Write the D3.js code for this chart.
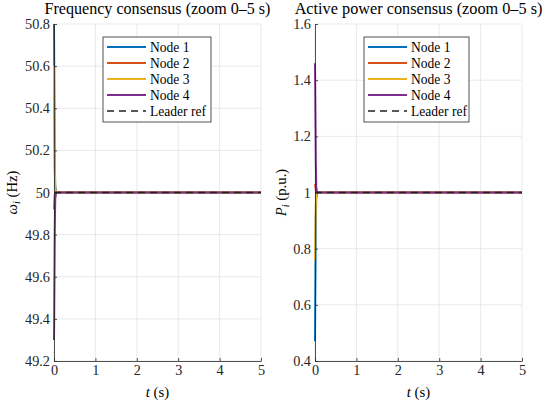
<!DOCTYPE html>
<html>
<head>
<meta charset="utf-8">
<script src="https://cdn.jsdelivr.net/npm/d3@7"></script>
<style>
  body { margin: 0; background: #fff; }
</style>
</head>
<body>
<div id="chart"></div>
<script>
const FONT = "'Liberation Serif', 'DejaVu Serif', serif";

// time samples (s)
const timeSteps = [0, 0.005, 0.01, 0.015, 0.02, 0.03, 0.05, 0.1, 0.5, 1, 2, 3, 4, 5];
const nodeNames = ["Node 1", "Node 2", "Node 3", "Node 4"];
const nodeColors = ["#0072BD", "#D95319", "#EDB120", "#7E2F8E"];

// frequency (Hz)
const freqNode1 = [50.8, 50.62, 50.44, 50.27, 50.13, 50.03, 50.0, 50, 50, 50, 50, 50, 50, 50];
const freqNode2 = [49.92, 49.94, 49.96, 49.98, 49.99, 50.0, 50, 50, 50, 50, 50, 50, 50, 50];
const freqNode3 = [50.6, 50.46, 50.33, 50.2, 50.1, 50.02, 50, 50, 50, 50, 50, 50, 50, 50];
const freqNode4 = [49.3, 49.42, 49.56, 49.7, 49.84, 49.97, 50, 50, 50, 50, 50, 50, 50, 50];
const freqLeader = 50;
const freqTicks = [49.2, 49.4, 49.6, 49.8, 50, 50.2, 50.4, 50.6, 50.8];

// active power (p.u.)
const powNode1 = [0.47, 0.58, 0.69, 0.8, 0.9, 0.98, 1, 1, 1, 1, 1, 1, 1, 1];
const powNode2 = [1.03, 1.025, 1.02, 1.015, 1.01, 1.0, 1, 1, 1, 1, 1, 1, 1, 1];
const powNode3 = [0.76, 0.82, 0.87, 0.92, 0.96, 0.99, 1, 1, 1, 1, 1, 1, 1, 1];
const powNode4 = [1.46, 1.38, 1.29, 1.2, 1.11, 1.02, 1, 1, 1, 1, 1, 1, 1, 1];
const powLeader = 1;
const powTicks = [0.4, 0.6, 0.8, 1, 1.2, 1.4, 1.6];

const timeTicks = [0, 1, 2, 3, 4, 5];

const svg = d3.select("#chart")
    .append("svg")
    .attr("width", 550)
    .attr("height", 405)
    .style("font-family", FONT);

// pick a font size so that a sample string takes the width seen in the reference
function fitSize(sample, targetW) {
    const t = svg.append("text").attr("font-size", 20).text(sample);
    const w = t.node().getComputedTextLength();
    t.remove();
    return 20 * targetW / w;
}
const tickSize = fitSize("50.8", 25);
const legendSize = fitSize("Leader ref", 56);
const labelSize = fitSize("(Hz)", 27);

function drawPanel(opts) {
    const width = 207, height = 337;
    const g = svg.append("g")
        .attr("transform", `translate(${opts.left},24)`);

    const x = d3.scaleLinear().domain([0, 5]).range([0, width]);
    const y = d3.scaleLinear().domain(opts.domain).range([height, 0]);

    // grid
    g.append("g")
        .selectAll("line")
        .data(timeTicks)
        .enter()
        .append("line")
        .attr("x1", d => x(d)).attr("x2", d => x(d))
        .attr("y1", 0).attr("y2", height)
        .attr("stroke", "#e3e3e3").attr("stroke-width", 0.8);
    g.append("g")
        .selectAll("line")
        .data(opts.ticks)
        .enter()
        .append("line")
        .attr("x1", 0).attr("x2", width)
        .attr("y1", d => y(d)).attr("y2", d => y(d))
        .attr("stroke", "#e3e3e3").attr("stroke-width", 0.8);

    // series
    const line = d3.line()
        .x((d, i) => x(timeSteps[i]))
        .y(d => y(d));

    opts.series.forEach((s, i) => {
        g.append("path")
            .datum(s)
            .attr("fill", "none")
            .attr("stroke", nodeColors[i])
            .attr("stroke-width", 2)
            .attr("d", line);
    });

    g.append("path")
        .datum([opts.leader, opts.leader])
        .attr("fill", "none")
        .attr("stroke", "#222")
        .attr("stroke-width", 1.6)
        .attr("stroke-dasharray", "7,5")
        .attr("d", d3.line().x((d, i) => x(i * 5)).y(d => y(d)));

    // axes, ticks pointing inward
    const fmt = d => String(+d.toFixed(1));
    const xAxis = g.append("g")
        .attr("transform", `translate(0,${height})`)
        .call(d3.axisBottom(x).tickValues(timeTicks).tickFormat(fmt)
            .tickSizeInner(-3).tickSizeOuter(0).tickPadding(4));
    const yAxis = g.append("g")
        .call(d3.axisLeft(y).tickValues(opts.ticks).tickFormat(fmt)
            .tickSizeInner(-3).tickSizeOuter(0).tickPadding(4));
    [xAxis, yAxis].forEach(a => {
        a.attr("font-family", FONT).attr("font-size", tickSize);
        a.selectAll("path, line").attr("stroke", "#262626").attr("stroke-width", 0.8);
        a.selectAll("text").attr("fill", "#262626");
    });

    // title, fitted to the reference width
    const title = g.append("text")
        .attr("x", width / 2)
        .attr("y", -10.5)
        .attr("text-anchor", "middle")
        .attr("font-size", 16)
        .text(opts.title);
    const tw = title.node().getComputedTextLength();
    title.attr("font-size", 16 * opts.titleW / tw);

    // x label
    const xl = g.append("text")
        .attr("x", width / 2)
        .attr("y", height + 36)
        .attr("text-anchor", "middle")
        .attr("font-size", labelSize);
    xl.append("tspan").attr("font-style", "italic").text("t");
    xl.append("tspan").text(" (s)");

    // y label
    const yl = g.append("text")
        .attr("transform", `translate(${opts.ylabelX},${height / 2}) rotate(-90)`)
        .attr("text-anchor", "middle")
        .attr("font-size", labelSize);
    yl.append("tspan").attr("font-style", "italic").text(opts.ysym);
    yl.append("tspan").attr("font-style", "italic").attr("font-size", labelSize * 0.7).attr("dy", 3).text("i");
    yl.append("tspan").attr("dy", -3).text(" " + opts.yunit);

    // legend
    const lg = g.append("g")
        .attr("transform", `translate(${opts.legendX},13)`);
    lg.append("rect")
        .attr("width", opts.legendW).attr("height", 85)
        .attr("fill", "#fff").attr("stroke", "#262626").attr("stroke-width", 0.8);
    const entries = nodeNames.map((n, i) => ({ name: n, color: nodeColors[i], dash: null }))
        .concat([{ name: "Leader ref", color: "#222", dash: "7,5" }]);
    entries.forEach((e, i) => {
        const yy = 10 + i * 16;
        lg.append("line")
            .attr("x1", 4).attr("x2", 43)
            .attr("y1", yy).attr("y2", yy)
            .attr("stroke", e.color)
            .attr("stroke-width", e.dash ? 1.6 : 2)
            .attr("stroke-dasharray", e.dash);
        lg.append("text")
            .attr("x", 47).attr("y", yy + 4.5)
            .attr("font-size", legendSize)
            .text(e.name);
    });
}

drawPanel({
    left: 54,
    domain: [49.2, 50.8],
    ticks: freqTicks,
    series: [freqNode1, freqNode2, freqNode3, freqNode4],
    leader: freqLeader,
    title: "Frequency consensus (zoom 0\u20135 s)",
    titleW: 226,
    ysym: "\u03c9",
    yunit: "(Hz)",
    ylabelX: -37,
    legendX: 49,
    legendW: 108
});

drawPanel({
    left: 315,
    domain: [0.4, 1.6],
    ticks: powTicks,
    series: [powNode1, powNode2, powNode3, powNode4],
    leader: powLeader,
    title: "Active power consensus (zoom 0\u20135 s)",
    titleW: 248,
    ysym: "P",
    yunit: "(p.u.)",
    ylabelX: -29,
    legendX: 49,
    legendW: 105
});
</script>
</body>
</html>
